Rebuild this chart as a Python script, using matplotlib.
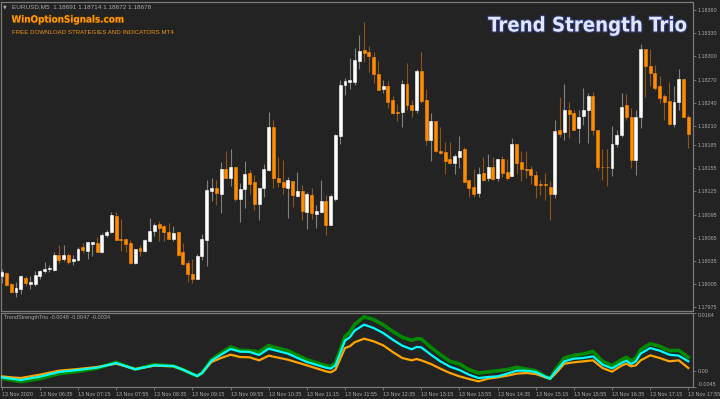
import matplotlib
matplotlib.use('Agg')
import matplotlib.pyplot as plt
import matplotlib.font_manager as fm
import matplotlib.patheffects as pe

# Velas EURUSD M5 (05:55 -> 17:55)
opens = [1.18015, 1.18019, 1.18005, 1.17995, 1.17999, 1.18013, 1.18005, 1.18005, 1.18015, 1.18022,
         1.18024, 1.18023, 1.18042, 1.18037, 1.18042, 1.18035, 1.18036, 1.18053, 1.18048, 1.18057,
         1.18058, 1.18046, 1.18068, 1.18072, 1.18093, 1.18064, 1.18063, 1.18058, 1.18032, 1.18052,
         1.18048, 1.18061, 1.18074, 1.18083, 1.18080, 1.18072, 1.18063, 1.18072, 1.18046, 1.18032,
         1.18018, 1.18012, 1.18041, 1.18062, 1.18126, 1.18130, 1.18122, 1.18154, 1.18142, 1.18156,
         1.18115, 1.18128, 1.18149, 1.18137, 1.18109, 1.18129, 1.18153, 1.18208, 1.18143, 1.18137,
         1.18130, 1.18138, 1.18119, 1.18126, 1.18098, 1.18121, 1.18096, 1.18098, 1.18113, 1.18082,
         1.18115, 1.18197, 1.18263, 1.18267, 1.18267, 1.18294, 1.18308, 1.18306, 1.18299, 1.18277,
         1.18258, 1.18262, 1.18243, 1.18228, 1.18228, 1.18264, 1.18237, 1.18230, 1.18281, 1.18243,
         1.18192, 1.18216, 1.18177, 1.18176, 1.18167, 1.18162, 1.18170, 1.18180, 1.18140, 1.18131,
         1.18123, 1.18149, 1.18142, 1.18157, 1.18142, 1.18167, 1.18150, 1.18145, 1.18186, 1.18163,
         1.18154, 1.18154, 1.18146, 1.18134, 1.18134, 1.18131, 1.18122, 1.18205, 1.18202, 1.18231,
         1.18226, 1.18207, 1.18223, 1.18231, 1.18248, 1.18205, 1.18157, 1.18157, 1.18155, 1.18186,
         1.18198, 1.18237, 1.18222, 1.18166, 1.18221, 1.18310, 1.18288, 1.18278, 1.18261, 1.18248,
         1.18242, 1.18212, 1.18241, 1.18271, 1.18222]
highs = [1.18025, 1.18020, 1.18006, 1.18008, 1.18017, 1.18015, 1.18015, 1.18022, 1.18023, 1.18033,
         1.18030, 1.18046, 1.18055, 1.18056, 1.18045, 1.18043, 1.18053, 1.18058, 1.18060, 1.18060,
         1.18066, 1.18071, 1.18075, 1.18098, 1.18098, 1.18089, 1.18064, 1.18062, 1.18051, 1.18055,
         1.18063, 1.18090, 1.18084, 1.18087, 1.18081, 1.18084, 1.18080, 1.18072, 1.18058, 1.18036,
         1.18038, 1.18044, 1.18070, 1.18140, 1.18143, 1.18140, 1.18163, 1.18177, 1.18180, 1.18157,
         1.18136, 1.18164, 1.18153, 1.18146, 1.18129, 1.18161, 1.18228, 1.18218, 1.18170, 1.18166,
         1.18144, 1.18138, 1.18150, 1.18133, 1.18124, 1.18130, 1.18107, 1.18140, 1.18120, 1.18122,
         1.18200, 1.18270, 1.18272, 1.18298, 1.18311, 1.18328, 1.18344, 1.18314, 1.18306, 1.18294,
         1.18269, 1.18268, 1.18248, 1.18238, 1.18270, 1.18292, 1.18243, 1.18284, 1.18306, 1.18258,
         1.18227, 1.18216, 1.18208, 1.18189, 1.18189, 1.18174, 1.18197, 1.18183, 1.18140, 1.18154,
         1.18157, 1.18170, 1.18174, 1.18170, 1.18167, 1.18171, 1.18167, 1.18194, 1.18187, 1.18178,
         1.18178, 1.18158, 1.18151, 1.18140, 1.18149, 1.18138, 1.18217, 1.18247, 1.18264, 1.18241,
         1.18230, 1.18231, 1.18259, 1.18252, 1.18254, 1.18205, 1.18180, 1.18180, 1.18210, 1.18205,
         1.18252, 1.18251, 1.18233, 1.18231, 1.18316, 1.18310, 1.18310, 1.18289, 1.18274, 1.18251,
         1.18267, 1.18261, 1.18284, 1.18271, 1.18224]
lows = [1.18006, 1.18002, 1.17994, 1.17988, 1.17992, 1.18002, 1.17998, 1.18003, 1.18012, 1.18019,
        1.18021, 1.18022, 1.18032, 1.18035, 1.18031, 1.18030, 1.18035, 1.18045, 1.18038, 1.18041,
        1.18047, 1.18045, 1.18066, 1.18071, 1.18062, 1.18048, 1.18046, 1.18031, 1.18031, 1.18041,
        1.18047, 1.18060, 1.18067, 1.18061, 1.18061, 1.18063, 1.18061, 1.18041, 1.18030, 1.18008,
        1.18007, 1.18011, 1.18036, 1.18028, 1.18112, 1.18107, 1.18097, 1.18142, 1.18132, 1.18112,
        1.18086, 1.18104, 1.18122, 1.18101, 1.18088, 1.18118, 1.18151, 1.18129, 1.18131, 1.18122,
        1.18090, 1.18105, 1.18118, 1.18088, 1.18076, 1.18089, 1.18078, 1.18097, 1.18069, 1.18081,
        1.18113, 1.18187, 1.18250, 1.18258, 1.18263, 1.18284, 1.18293, 1.18280, 1.18266, 1.18256,
        1.18252, 1.18233, 1.18225, 1.18216, 1.18208, 1.18231, 1.18221, 1.18227, 1.18240, 1.18185,
        1.18164, 1.18176, 1.18174, 1.18148, 1.18161, 1.18148, 1.18155, 1.18137, 1.18118, 1.18118,
        1.18118, 1.18138, 1.18138, 1.18140, 1.18138, 1.18144, 1.18140, 1.18145, 1.18148, 1.18139,
        1.18142, 1.18135, 1.18116, 1.18120, 1.18114, 1.18088, 1.18116, 1.18196, 1.18191, 1.18194,
        1.18205, 1.18188, 1.18211, 1.18188, 1.18198, 1.18153, 1.18140, 1.18132, 1.18145, 1.18183,
        1.18196, 1.18218, 1.18155, 1.18146, 1.18207, 1.18247, 1.18261, 1.18256, 1.18239, 1.18218,
        1.18211, 1.18208, 1.18230, 1.18221, 1.18181]
closes = [1.18021, 1.18004, 1.17995, 1.18000, 1.18015, 1.18007, 1.18008, 1.18017, 1.18022, 1.18024,
          1.18026, 1.18043, 1.18036, 1.18042, 1.18034, 1.18037, 1.18050, 1.18049, 1.18059, 1.18059,
          1.18047, 1.18069, 1.18073, 1.18094, 1.18062, 1.18062, 1.18057, 1.18032, 1.18050, 1.18048,
          1.18062, 1.18074, 1.18082, 1.18078, 1.18073, 1.18064, 1.18071, 1.18043, 1.18031, 1.18018,
          1.18012, 1.18041, 1.18063, 1.18127, 1.18130, 1.18123, 1.18154, 1.18142, 1.18156, 1.18115,
          1.18128, 1.18148, 1.18135, 1.18109, 1.18129, 1.18154, 1.18208, 1.18142, 1.18137, 1.18131,
          1.18140, 1.18120, 1.18126, 1.18099, 1.18122, 1.18097, 1.18100, 1.18113, 1.18081, 1.18119,
          1.18198, 1.18263, 1.18268, 1.18269, 1.18295, 1.18307, 1.18304, 1.18301, 1.18277, 1.18257,
          1.18262, 1.18241, 1.18227, 1.18227, 1.18264, 1.18237, 1.18230, 1.18281, 1.18242, 1.18192,
          1.18216, 1.18177, 1.18175, 1.18165, 1.18162, 1.18171, 1.18178, 1.18137, 1.18130, 1.18122,
          1.18148, 1.18140, 1.18157, 1.18141, 1.18167, 1.18149, 1.18143, 1.18186, 1.18162, 1.18154,
          1.18153, 1.18146, 1.18133, 1.18133, 1.18133, 1.18122, 1.18203, 1.18200, 1.18231, 1.18225,
          1.18205, 1.18222, 1.18231, 1.18248, 1.18204, 1.18157, 1.18156, 1.18156, 1.18186, 1.18198,
          1.18234, 1.18222, 1.18166, 1.18221, 1.18310, 1.18287, 1.18278, 1.18259, 1.18246, 1.18241,
          1.18212, 1.18241, 1.18271, 1.18222, 1.18200]

time_labels = ['13 Nov 2020', '13 Nov 06:35', '13 Nov 07:15', '13 Nov 07:55', '13 Nov 08:35',
               '13 Nov 09:15', '13 Nov 09:55', '13 Nov 10:35', '13 Nov 11:15', '13 Nov 11:55',
               '13 Nov 12:35', '13 Nov 13:15', '13 Nov 13:55', '13 Nov 14:35', '13 Nov 15:15',
               '13 Nov 15:55', '13 Nov 16:35', '13 Nov 17:15', '13 Nov 17:55']
price_ticks = [1.18360, 1.18330, 1.18300, 1.18270, 1.18240, 1.18210, 1.18185,
               1.18155, 1.18125, 1.18095, 1.18065, 1.18035, 1.18005, 1.17975]

# Indicador TrendStrengthTrio (lecturas por barra)
ind_bars = [0, 2, 4, 8, 12, 16, 20, 24, 28, 32, 36, 38, 40, 41, 42, 44, 46, 48, 50, 52,
            54, 56, 60, 64, 68, 69, 70, 72, 73, 74, 76, 78, 80, 82, 84, 86, 87, 88, 90, 92,
            94, 96, 98, 100, 102, 104, 106, 108, 110, 112, 114, 115, 116, 118, 120, 122, 124, 126, 128, 130,
            131, 132, 133, 134, 136, 138, 140, 142, 144]
ind_green = [-0.00205, -0.00252, -0.00299, -0.00215, -0.00074, -0.00008, 0.00077, 0.00247, 0.00049, 0.00181,
             0.00143, 0.00040, -0.00083, -0.00139, -0.00055, 0.00322, 0.00510, 0.00680, 0.00586, 0.00576,
             0.00539, 0.00717, 0.00576, 0.00322, 0.00153, 0.00124, 0.00228, 0.00981, 0.01103, 0.01311,
             0.01536, 0.01452, 0.01311, 0.01122, 0.00953, 0.00868, 0.00915, 0.00906, 0.00670, 0.00463,
             0.00275, 0.00200, 0.00040, -0.00055, -0.00026, 0.00011, 0.00040, 0.00106, 0.00058, 0.00011,
             -0.00149, -0.00215, 0.00011, 0.00369, 0.00444, 0.00482, 0.00557, 0.00275, 0.00153, 0.00322,
             0.00388, 0.00294, 0.00369, 0.00604, 0.00774, 0.00699, 0.00576, 0.00586, 0.00388]
ind_cyan = [-0.00177, -0.00215, -0.00252, -0.00158, -0.00026, 0.00030, 0.00096, 0.00228, 0.00049, 0.00162,
            0.00143, 0.00040, -0.00083, -0.00139, -0.00055, 0.00294, 0.00463, 0.00623, 0.00548, 0.00539,
            0.00454, 0.00633, 0.00492, 0.00256, 0.00096, 0.00068, 0.00162, 0.00859, 0.00953, 0.01141,
            0.01311, 0.01216, 0.01075, 0.00887, 0.00717, 0.00614, 0.00680, 0.00670, 0.00463, 0.00275,
            0.00124, 0.00030, -0.00102, -0.00196, -0.00168, -0.00149, -0.00074, 0.00011, 0.00011, -0.00026,
            -0.00158, -0.00215, -0.00036, 0.00275, 0.00350, 0.00369, 0.00416, 0.00181, 0.00077, 0.00228,
            0.00294, 0.00200, 0.00275, 0.00492, 0.00651, 0.00576, 0.00463, 0.00435, 0.00275]
ind_orange = [-0.00149, -0.00177, -0.00196, -0.00102, 0.00011, 0.00058, 0.00115, 0.00209, 0.00058, 0.00153,
              0.00134, 0.00040, -0.00083, -0.00139, -0.00055, 0.00256, 0.00369, 0.00463, 0.00397, 0.00388,
              0.00303, 0.00435, 0.00322, 0.00162, -0.00008, -0.00036, 0.00040, 0.00651, 0.00699, 0.00812,
              0.00915, 0.00840, 0.00727, 0.00539, 0.00369, 0.00303, 0.00341, 0.00303, 0.00200, 0.00068,
              -0.00055, -0.00149, -0.00224, -0.00290, -0.00215, -0.00177, -0.00130, -0.00074, -0.00055, -0.00083,
              -0.00177, -0.00215, -0.00092, 0.00209, 0.00247, 0.00275, 0.00303, 0.00087, -0.00017, 0.00153,
              0.00209, 0.00134, 0.00162, 0.00303, 0.00444, 0.00369, 0.00275, 0.00303, 0.00087]
ind_ticks = [0.0164, 0.0, -0.0045]

# Estilo
BG = '#232323'
FRAME = '#7a7a7a'
TXT = '#a8a8a8'
UP_BODY, UP_WICK = '#ffffff', '#808080'
DN_BODY, DN_WICK = '#ff8c00', '#8f5512'
small = ['Liberation Sans', 'DejaVu Sans']


def condensed_bold():
    # busca una fuente estrecha en negrita; si no hay, DejaVu Sans Bold
    for f in fm.fontManager.ttflist:
        narrow = 'Narrow' in f.name or 'Condensed' in f.name or 'condensed' in str(f.stretch)
        if narrow and f.weight in ('bold', 700, 'heavy', 800, 900):
            return fm.FontProperties(fname=f.fname)
    return fm.FontProperties(family='DejaVu Sans', weight='bold')


W, H = 720, 399
fig = plt.figure(figsize=(W / 100, H / 100), dpi=100, facecolor=BG)


def px_rect(x0, y0, x1, y1):
    return [x0 / W, 1 - y1 / H, (x1 - x0) / W, (y1 - y0) / H]


ax = fig.add_axes(px_rect(1, 2, 692.5, 311))
ax2 = fig.add_axes(px_rect(1, 312.5, 692.5, 387))

for a in (ax, ax2):
    a.set_facecolor(BG)
    for s in a.spines.values():
        s.set_color(FRAME)
        s.set_linewidth(0.9)
    a.set_xlim(-0.15, 144.88)

# Velas
n = len(opens)
xs = list(range(n))
up = [c >= o for o, c in zip(opens, closes)]
ax.vlines(xs, lows, highs, colors=[UP_WICK if u else DN_WICK for u in up], linewidth=0.8, zorder=2)
ax.bar(xs, [c - o for o, c in zip(opens, closes)], bottom=opens, width=0.62,
       color=[UP_BODY if u else DN_BODY for u in up],
       edgecolor=[UP_BODY if u else DN_BODY for u in up], linewidth=0.4, zorder=3)

ax.set_ylim(1.179701, 1.183704)
ax.yaxis.tick_right()
ax.set_yticks(price_ticks)
ax.set_yticklabels([f'{v:.5f}' for v in price_ticks])
ax.tick_params(axis='y', colors=FRAME, labelcolor=TXT, length=2.5, width=0.6, pad=1.5,
               labelsize=3.9, labelfontfamily=small)
ax.set_xticks([])

# Indicador
ax2.plot(ind_bars, ind_green, color='#008a00', linewidth=2.6, solid_joinstyle='round', zorder=2)
ax2.plot(ind_bars, ind_orange, color='#ffa500', linewidth=1.6, solid_joinstyle='round', zorder=3)
ax2.plot(ind_bars, ind_cyan, color='#00ffff', linewidth=1.6, solid_joinstyle='round', zorder=4)
ax2.set_ylim(-0.0045, 0.01654)
ax2.yaxis.tick_right()
ax2.set_yticks(ind_ticks)
ax2.set_yticklabels(['0.0164', '0.00', '-0.0045'])
ax2.tick_params(axis='y', colors=FRAME, labelcolor=TXT, length=2.5, width=0.6, pad=1.5,
                labelsize=3.9, labelfontfamily=small)
ylabs = ax2.get_yticklabels()
ylabs[0].set_va('top')
ylabs[2].set_va('bottom')

ax2.set_xticks(list(range(0, n, 8)))
ax2.set_xticklabels(time_labels, ha='left')
ax2.tick_params(axis='x', colors=FRAME, labelcolor=TXT, length=2.5, width=0.6, pad=1.2,
                labelsize=3.9, labelfontfamily=small)

ax2.text(0.005, 0.93, 'TrendStrengthTrio -0.0048 -0.0047 -0.0034', transform=ax2.transAxes,
         color=TXT, fontsize=4.0, family=small, va='center', ha='left')

# Textos de cabecera
fig.text(5 / W, 1 - 6.5 / H, '▼', color=TXT, fontsize=3.5, family=['DejaVu Sans'], va='center', ha='center')
fig.text(11.7 / W, 1 - 6.5 / H, 'EURUSD,M5  1.18691 1.18714 1.18672 1.18678', color=TXT,
         fontsize=4.6, family=small, va='center', ha='left')
fig.text(11.7 / W, 1 - 33 / H, 'FREE DOWNLOAD STRATEGIES AND INDICATORS MT4', color='#e89418',
         fontsize=4.4, family=small, va='center', ha='left')

bold_cond = condensed_bold()
site = fig.text(11.5 / W, 1 - 19.5 / H, 'WinOptionSignals.com', color='#ff9c00', fontsize=9.2,
                fontproperties=bold_cond, va='center', ha='left',
                path_effects=[pe.withStroke(linewidth=0.8, foreground='#5a3300')])
title = fig.text(687 / W, 1 - 26 / H, 'Trend Strength Trio', color='#e2e6fb', fontsize=19,
                 fontproperties=bold_cond, va='center', ha='right',
                 path_effects=[pe.withStroke(linewidth=1.6, foreground='#2e3a78')])

# ajustar el tamaño de los dos rótulos al ancho que ocupan en la captura
renderer = fig.canvas.get_renderer()
for t, target in ((site, 113), (title, 199)):
    t.set_fontsize(9.2 if t is site else 19)
    w = t.get_window_extent(renderer).width
    t.set_fontsize(t.get_fontsize() * target / w)

plt.savefig('out.png', dpi=100, facecolor=BG)
